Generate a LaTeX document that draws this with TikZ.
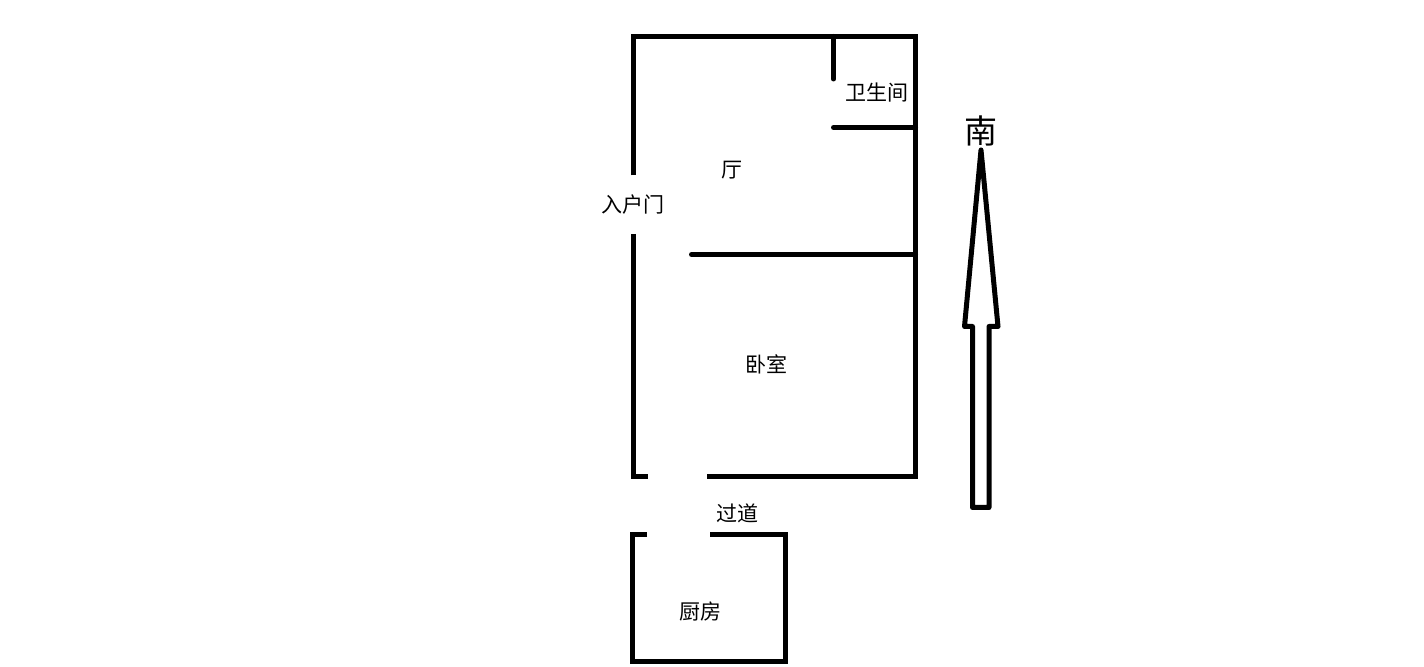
\documentclass[tikz,border=0pt]{standalone}
\usepackage{fontspec}
\setmainfont{Noto Sans CJK SC}

\begin{document}
\begin{tikzpicture}[x=0.5pt,y=-0.5pt,
  every node/.style={inner sep=0pt, outer sep=0pt, font=\fontsize{10.5}{12}\selectfont},
  wall/.style={line width=2.5pt, line cap=round, line join=miter},
  walledge/.style={line width=2.5pt, line cap=butt, line join=miter},
  pointer/.style={line width=2.5pt, line join=round}]
\useasboundingbox (0,0) rectangle (1424,667);

\draw[walledge] (633.5,175.5) -- (633.5,36.5) -- (915.5,36.5) -- (915.5,476.5) -- (707,476.5);
\draw[walledge] (633.5,234) -- (633.5,476.5) -- (648,476.5);
\draw[wall] (833.5,36.5) -- (833.5,79);
\draw[wall] (833.5,127.5) -- (915.5,127.5);
\draw[wall] (691.5,254.5) -- (915.5,254.5);

\draw[walledge] (647,534.5) -- (632.5,534.5) -- (632.5,661.5) -- (785.5,661.5) -- (785.5,534.5) -- (710,534.5);

\draw[pointer] (981,150) -- (998,326.5) -- (989,326.5) -- (989,507.5) -- (972.5,507.5) -- (972.5,326.5) -- (964.5,326.5) -- cycle;

\node (wc) at (877,92.5) {卫生间};
\node (hall) at (732,170) {厅};
\node (door) at (633,205) {入户门};
\node (bedroom) at (766,364) {卧室};
\node (corridor) at (737,513) {过道};
\node (kitchen) at (700,611) {厨房};
\node[font=\fontsize{16.5}{18}\selectfont] (south) at (981,131) {南};
\end{tikzpicture}
\end{document}
